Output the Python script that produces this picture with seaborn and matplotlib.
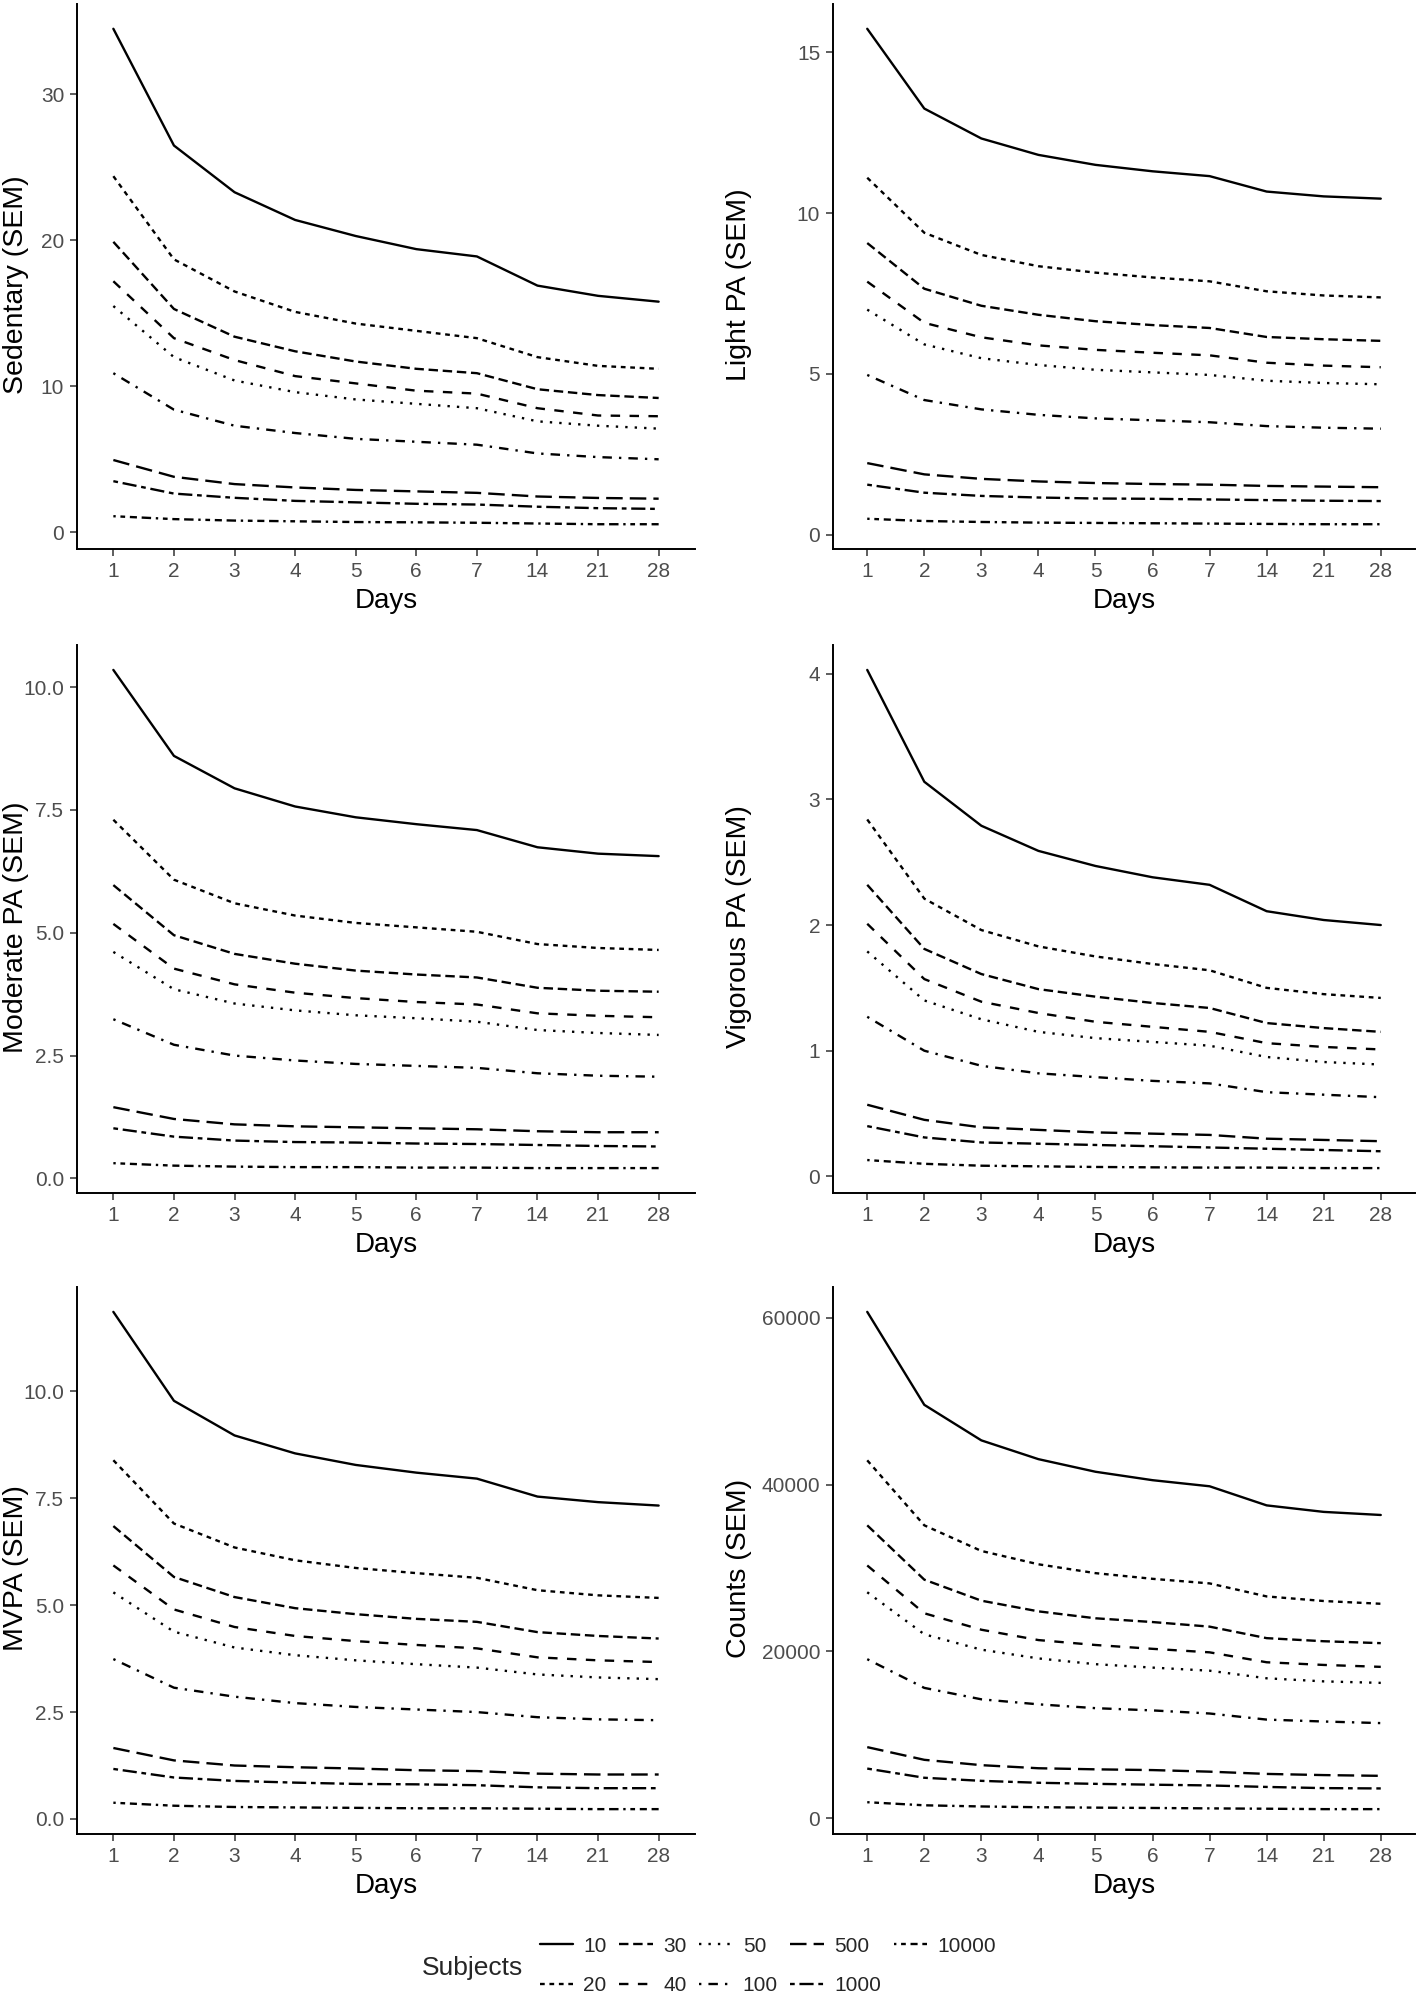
import numpy as np
import pandas as pd
import matplotlib
matplotlib.use("Agg")
import matplotlib.pyplot as plt
import seaborn as sns
from matplotlib.ticker import FuncFormatter

# ---------------- data ----------------
days = ["1", "2", "3", "4", "5", "6", "7", "14", "21", "28"]
subjects = ["10", "20", "30", "40", "50", "100", "500", "1000", "10000"]

sedentary = {
    "10":    [34.5, 26.5, 23.3, 21.4, 20.3, 19.4, 18.9, 16.9, 16.2, 15.8],
    "20":    [24.4, 18.7, 16.5, 15.1, 14.3, 13.8, 13.3, 12.0, 11.4, 11.2],
    "30":    [19.9, 15.3, 13.4, 12.4, 11.7, 11.2, 10.9, 9.8, 9.4, 9.2],
    "40":    [17.2, 13.3, 11.8, 10.7, 10.2, 9.7, 9.5, 8.5, 8.0, 7.95],
    "50":    [15.5, 12.0, 10.4, 9.6, 9.1, 8.8, 8.5, 7.6, 7.3, 7.1],
    "100":   [10.9, 8.4, 7.3, 6.8, 6.4, 6.2, 6.0, 5.4, 5.15, 5.0],
    "500":   [4.95, 3.8, 3.3, 3.07, 2.9, 2.8, 2.7, 2.45, 2.35, 2.3],
    "1000":  [3.5, 2.65, 2.36, 2.15, 2.05, 1.95, 1.9, 1.75, 1.65, 1.6],
    "10000": [1.1, 0.9, 0.8, 0.75, 0.7, 0.68, 0.65, 0.6, 0.55, 0.55],
}
light = {
    "10":    [15.73, 13.25, 12.32, 11.81, 11.5, 11.3, 11.15, 10.67, 10.52, 10.45],
    "20":    [11.1, 9.39, 8.7, 8.35, 8.15, 8.0, 7.88, 7.57, 7.44, 7.38],
    "30":    [9.07, 7.65, 7.12, 6.84, 6.64, 6.52, 6.43, 6.15, 6.08, 6.03],
    "40":    [7.87, 6.59, 6.14, 5.89, 5.75, 5.66, 5.58, 5.35, 5.26, 5.21],
    "50":    [7.0, 5.92, 5.49, 5.28, 5.13, 5.05, 4.97, 4.79, 4.72, 4.68],
    "100":   [4.97, 4.19, 3.9, 3.73, 3.62, 3.56, 3.5, 3.38, 3.33, 3.3],
    "500":   [2.23, 1.88, 1.74, 1.66, 1.61, 1.58, 1.56, 1.52, 1.5, 1.48],
    "1000":  [1.56, 1.31, 1.21, 1.16, 1.13, 1.12, 1.1, 1.08, 1.06, 1.05],
    "10000": [0.5, 0.43, 0.4, 0.38, 0.37, 0.36, 0.35, 0.34, 0.33, 0.33],
}
moderate = {
    "10":    [10.35, 8.6, 7.94, 7.57, 7.35, 7.21, 7.09, 6.74, 6.61, 6.56],
    "20":    [7.30, 6.08, 5.6, 5.35, 5.2, 5.11, 5.02, 4.77, 4.69, 4.65],
    "30":    [5.97, 4.95, 4.57, 4.37, 4.23, 4.15, 4.09, 3.88, 3.82, 3.8],
    "40":    [5.18, 4.27, 3.95, 3.78, 3.67, 3.59, 3.54, 3.36, 3.31, 3.28],
    "50":    [4.61, 3.85, 3.56, 3.42, 3.32, 3.26, 3.19, 3.02, 2.96, 2.92],
    "100":   [3.24, 2.72, 2.5, 2.4, 2.33, 2.29, 2.25, 2.14, 2.09, 2.07],
    "500":   [1.45, 1.21, 1.10, 1.06, 1.04, 1.02, 1.0, 0.96, 0.94, 0.94],
    "1000":  [1.02, 0.85, 0.77, 0.74, 0.73, 0.71, 0.70, 0.68, 0.66, 0.65],
    "10000": [0.31, 0.26, 0.24, 0.23, 0.23, 0.22, 0.22, 0.21, 0.21, 0.21],
}
vigorous = {
    "10":    [4.03, 3.14, 2.79, 2.59, 2.47, 2.38, 2.32, 2.11, 2.04, 2.0],
    "20":    [2.84, 2.21, 1.96, 1.83, 1.75, 1.69, 1.64, 1.50, 1.45, 1.42],
    "30":    [2.32, 1.81, 1.61, 1.49, 1.43, 1.38, 1.34, 1.22, 1.18, 1.15],
    "40":    [2.01, 1.57, 1.39, 1.30, 1.23, 1.19, 1.15, 1.06, 1.03, 1.01],
    "50":    [1.79, 1.40, 1.25, 1.15, 1.10, 1.07, 1.04, 0.95, 0.91, 0.89],
    "100":   [1.27, 1.0, 0.88, 0.82, 0.79, 0.76, 0.74, 0.67, 0.65, 0.63],
    "500":   [0.57, 0.45, 0.39, 0.37, 0.35, 0.34, 0.33, 0.30, 0.29, 0.28],
    "1000":  [0.40, 0.31, 0.27, 0.26, 0.25, 0.24, 0.23, 0.22, 0.21, 0.20],
    "10000": [0.13, 0.10, 0.085, 0.08, 0.075, 0.072, 0.07, 0.07, 0.066, 0.066],
}
mvpa = {
    "10":    [11.86, 9.78, 8.97, 8.55, 8.28, 8.10, 7.96, 7.54, 7.41, 7.33],
    "20":    [8.39, 6.91, 6.35, 6.05, 5.87, 5.75, 5.64, 5.35, 5.23, 5.17],
    "30":    [6.85, 5.66, 5.19, 4.93, 4.79, 4.68, 4.61, 4.37, 4.28, 4.22],
    "40":    [5.93, 4.90, 4.49, 4.28, 4.16, 4.07, 3.99, 3.78, 3.71, 3.67],
    "50":    [5.30, 4.38, 4.01, 3.83, 3.71, 3.62, 3.54, 3.38, 3.31, 3.27],
    "100":   [3.74, 3.07, 2.86, 2.71, 2.62, 2.56, 2.50, 2.38, 2.33, 2.31],
    "500":   [1.66, 1.37, 1.25, 1.21, 1.18, 1.14, 1.12, 1.06, 1.04, 1.04],
    "1000":  [1.17, 0.97, 0.89, 0.85, 0.82, 0.81, 0.79, 0.74, 0.72, 0.72],
    "10000": [0.38, 0.31, 0.28, 0.27, 0.26, 0.25, 0.25, 0.24, 0.23, 0.23],
}
counts = {
    "10":    [60690, 49550, 45290, 43040, 41530, 40520, 39790, 37500, 36720, 36350],
    "20":    [42900, 35110, 32040, 30440, 29380, 28700, 28150, 26590, 26040, 25710],
    "30":    [35110, 28600, 26080, 24800, 23970, 23520, 22970, 21590, 21220, 20990],
    "40":    [30300, 24570, 22600, 21360, 20770, 20310, 19890, 18700, 18380, 18150],
    "50":    [27090, 22050, 20210, 19160, 18470, 18060, 17690, 16780, 16410, 16230],
    "100":   [19070, 15630, 14260, 13660, 13200, 12930, 12560, 11830, 11600, 11410],
    "500":   [8530, 7010, 6370, 6000, 5870, 5780, 5590, 5320, 5180, 5090],
    "1000":  [5960, 4860, 4490, 4260, 4130, 4030, 3940, 3760, 3620, 3580],
    "10000": [1930, 1560, 1420, 1330, 1280, 1240, 1190, 1150, 1100, 1100],
}

panels = [
    ("Sedentary (SEM)", sedentary, [0, 10, 20, 30], "{:.0f}"),
    ("Light PA (SEM)", light, [0, 5, 10, 15], "{:.0f}"),
    ("Moderate PA (SEM)", moderate, [0, 2.5, 5, 7.5, 10], "{:.1f}"),
    ("Vigorous PA (SEM)", vigorous, [0, 1, 2, 3, 4], "{:.0f}"),
    ("MVPA (SEM)", mvpa, [0, 2.5, 5, 7.5, 10], "{:.1f}"),
    ("Counts (SEM)", counts, [0, 20000, 40000, 60000], "{:.0f}"),
]

# ggplot default linetype sequence
dashes = {
    "10": "",
    "20": (2, 2),
    "30": (4, 2),
    "40": (4, 4),
    "50": (1, 3),
    "100": (1, 3, 4, 3),
    "500": (7, 3),
    "1000": (2, 2, 6, 2),
    "10000": (1, 2, 2, 2, 3, 2, 4, 2),
}

# ---------------- style ----------------
sns.set_theme(style="ticks")
plt.rcParams["font.family"] = ["Liberation Sans", "DejaVu Sans"]
plt.rcParams["lines.scale_dashes"] = True

W, H = 1418, 2002
fig = plt.figure(figsize=(W / 100, H / 100), dpi=100)

col_x = [(77, 695), (833, 1415)]
row_y = [(4, 549), (645, 1193), (1287, 1834)]
ylabel_x = [16, 739]

handles, labels = None, None
for i, (ylab, data, yticks, fmt) in enumerate(panels):
    r, c = divmod(i, 2)
    x0, x1 = col_x[c]
    y0, y1 = row_y[r]
    ax = fig.add_axes([x0 / W, 1 - y1 / H, (x1 - x0) / W, (y1 - y0) / H])
    rows = []
    for s in subjects:
        for j, v in enumerate(data[s]):
            rows.append({"Days": j, "value": v, "Subjects": s})
    df = pd.DataFrame(rows)
    sns.lineplot(data=df, x="Days", y="value", style="Subjects",
                 style_order=subjects, dashes=dashes, color="black",
                 linewidth=1.7, ax=ax, legend=(i == 0))
    if i == 0:
        handles, labels = ax.get_legend_handles_labels()
        ax.get_legend().remove()
    vals = np.concatenate([data[s] for s in subjects])
    lo, hi = vals.min(), vals.max()
    pad = 0.05 * (hi - lo)
    ax.set_ylim(lo - pad, hi + pad)
    ax.set_xlim(-0.6, len(days) - 1 + 0.6)
    ax.set_xticks(range(len(days)))
    ax.set_xticklabels(days)
    ax.set_yticks(yticks)
    ax.yaxis.set_major_formatter(FuncFormatter(lambda v, p, f=fmt: f.format(v)))
    ax.set_xlabel("Days", fontsize=20, color="black", labelpad=5)
    ax.set_ylabel(ylab, fontsize=20.5, color="black")
    ax.yaxis.label.set_verticalalignment("center")
    ax.yaxis.set_label_coords(ylabel_x[c] / W, 1 - ((y0 + y1) / 2 + 8) / H,
                              transform=fig.transFigure)
    ax.tick_params(axis="both", labelsize=15, labelcolor="#4D4D4D",
                   color="#333333", length=4.7, width=1.1, pad=4.5)
    for sp in ["top", "right"]:
        ax.spines[sp].set_visible(False)
    for sp in ["left", "bottom"]:
        ax.spines[sp].set_linewidth(1.4)
        ax.spines[sp].set_color("black")

leg = fig.legend(handles, labels, ncol=5, loc="center left",
                 bbox_to_anchor=(521 / W, 1 - 1966 / H), frameon=False,
                 fontsize=15, handlelength=1.6, columnspacing=0.6,
                 handletextpad=0.5, labelspacing=1.0)
fig.text(523 / W, 1 - 1968 / H, "Subjects", fontsize=19, ha="right", va="center")

fig.savefig("out.png", dpi=100, facecolor="white")
